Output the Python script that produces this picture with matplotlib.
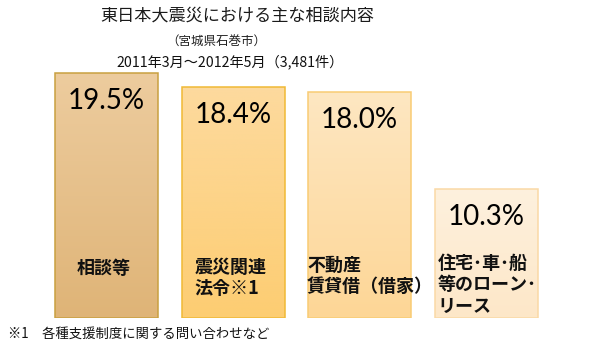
import numpy as np
import matplotlib
matplotlib.use("Agg")
import matplotlib.pyplot as plt
from matplotlib.colors import LinearSegmentedColormap

categories = ["相談等", "震災関連\n法令※1", "不動産\n賃貸借（借家）", "住宅･車･船\n等のローン･\nリース"]
values = [19.5, 18.4, 18.0, 10.3]
value_labels = ["19.5%", "18.4%", "18.0%", "10.3%"]
title = "東日本大震災における主な相談内容"
subtitle1 = "（宮城県石巻市）"
subtitle2 = "2011年3月～2012年5月（3,481件）"
footnote = "※1　各種支援制度に関する問い合わせなど"

top_colors = ["#EDCC9E", "#FDDA9E", "#FEE7C2", "#FEF1DE"]
bottom_colors = ["#DFB477", "#FDCD72", "#FDD696", "#FDE7C8"]
edge_colors = ["#C9A040", "#F0B935", "#F9CC74", "#FAD9A6"]
label_dx_px = [22, 13, -1, 3]
label_top_px = [59, 60, 62, 64]   # first-line top above baseline, pixels

JP = ["Noto Sans CJK JP", "DejaVu Sans"]
PT = 0.72  # points per pixel at dpi 100

W, H = 590, 342
fig = plt.figure(figsize=(W / 100, H / 100), dpi=100)
base_px = 318
scale = 12.56
ymax = 20
ax = fig.add_axes([0, (H - base_px) / H, 1, ymax * scale / H])
spacing = 126.5
c0 = 106.5
x = np.arange(len(values))
width = 103 / spacing

bars = ax.bar(x, values, width, facecolor="none", edgecolor=edge_colors, linewidth=1.1, zorder=3)
for i, b in enumerate(bars):
    cmap = LinearSegmentedColormap.from_list("g", [bottom_colors[i], top_colors[i]])
    grad = np.linspace(0, 1, 256).reshape(-1, 1)
    im = ax.imshow(grad, cmap=cmap, origin="lower", aspect="auto",
                   extent=(b.get_x(), b.get_x() + b.get_width(), 0, b.get_height()), zorder=2)
    im.set_clip_path(b)
    ax.annotate(value_labels[i], xy=(b.get_x() + b.get_width() / 2, b.get_height()),
                xytext=(0, -28 * PT), textcoords="offset points", ha="center", va="center",
                fontsize=20, family=["Lato", "DejaVu Sans"], color="#000000", zorder=4)
    ax.annotate(categories[i], xy=(b.get_x(), 0),
                xytext=(label_dx_px[i] * PT, label_top_px[i] * PT),
                textcoords="offset points", ha="left", va="top",
                fontsize=13, fontweight="bold", family=JP, color="#111111",
                linespacing=1.15, zorder=4)

ax.set_xlim(-c0 / spacing, (W - c0) / spacing)
ax.set_ylim(0, ymax)
ax.axis("off")

fig.text(237 / W, 1 - 16 / H, title, ha="center", va="center", fontsize=12.3, family=JP, color="#1a1a1a")
fig.text(216 / W, 1 - 42 / H, subtitle1, ha="center", va="center", fontsize=9, family=JP, color="#222222")
fig.text(230 / W, 1 - 62 / H, subtitle2, ha="center", va="center", fontsize=10.2, family=JP, color="#111111")
fig.text(8 / W, 1 - 334 / H, footnote, ha="left", va="center", fontsize=9.6, family=JP, color="#111111")

fig.savefig("out.png", dpi=100)
